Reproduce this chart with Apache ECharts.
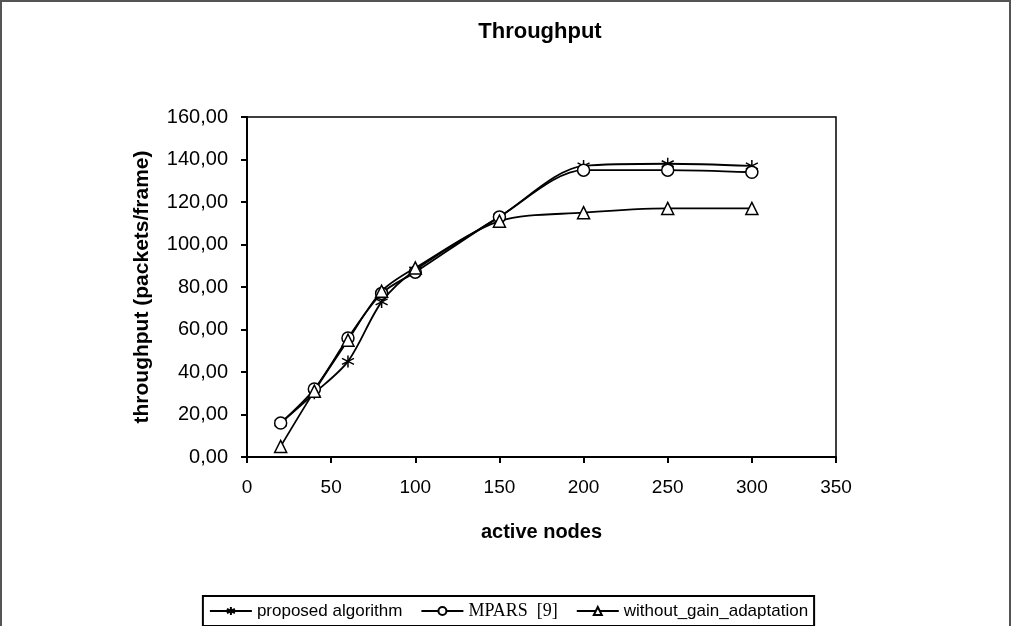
<!DOCTYPE html>
<html>
<head>
<meta charset="utf-8">
<script src="https://cdn.jsdelivr.net/npm/echarts@6/dist/echarts.min.js"></script>
<style>
html,body{margin:0;padding:0;background:#fff;}
#c{width:1017px;height:626px;}
</style>
</head>
<body>
<div id="c"></div>
<script>
var nodes = [20, 40, 60, 80, 100, 150, 200, 250, 300];
var proposed = [16, 30, 45, 73, 88, 113, 137, 138, 137];
var mpars = [16, 32, 56, 77, 87, 113, 135, 135, 134];
var withoutGain = [5, 31, 55, 78, 89, 111, 115, 117, 117];
var seriesNames = ['proposed algorithm', 'MPARS  [9]', 'without_gain_adaptation'];

function pairs(ys){ return nodes.map(function(x,i){ return [x, ys[i]]; }); }

var starPath = 'path://M5,0L5,10M0.7,2.5L9.3,7.5M0.7,7.5L9.3,2.5';
var font = 'Liberation Sans, Arial, sans-serif';

function mkSeries(name, ys, symbol){
  return {
    name: name, type: 'line', data: pairs(ys), smooth: 0.3,
    symbol: symbol, symbolSize: 12, showAllSymbol: true,
    lineStyle: {color: '#000', width: 1.8},
    itemStyle: {color: '#fff', borderColor: '#000', borderWidth: 1.5},
    emphasis: {disabled: true}
  };
}

var chart = echarts.init(document.getElementById('c'));
chart.setOption({
  animation: false,
  backgroundColor: '#fff',
  title: {
    text: 'Throughput', left: 535, top: 16, textAlign: 'center',
    textStyle: {fontFamily: font, fontSize: 22, fontWeight: 'bold', color: '#000'}
  },
  grid: {left: 247, right: 181, top: 117, bottom: 169, show: true, borderColor: '#000', borderWidth: 1.5, backgroundColor: '#fff'},
  xAxis: {
    type: 'value', min: 0, max: 350, interval: 50,
    name: 'active nodes', nameLocation: 'middle', nameGap: 65,
    nameTextStyle: {fontFamily: font, fontSize: 20, fontWeight: 'bold', color: '#000'},
    axisLine: {lineStyle: {color: '#000', width: 2}},
    axisTick: {inside: false, length: 6, lineStyle: {color: '#000', width: 2}},
    axisLabel: {fontFamily: font, fontSize: 19, color: '#000', margin: 21},
    splitLine: {show: false}
  },
  yAxis: {
    type: 'value', min: 0, max: 160, interval: 20,
    name: 'throughput (packets/frame)', nameLocation: 'middle', nameGap: 94,
    nameTextStyle: {fontFamily: font, fontSize: 21, fontWeight: 'bold', color: '#000'},
    axisLine: {lineStyle: {color: '#000', width: 2}},
    axisTick: {inside: false, length: 6, lineStyle: {color: '#000', width: 2}},
    axisLabel: {fontFamily: font, fontSize: 20, color: '#000', margin: 19,
      formatter: function(v){ return v.toFixed(2).replace('.', ','); }},
    splitLine: {show: false}
  },
  legend: {
    bottom: 0, left: 'center',
    data: [
      {name: seriesNames[0]},
      {name: seriesNames[1], textStyle: {fontFamily: 'Liberation Serif, Times New Roman, serif', fontSize: 18}},
      {name: seriesNames[2]}
    ],
    itemWidth: 42, itemHeight: 10, itemGap: 18,
    borderColor: '#000', borderWidth: 2, padding: [6, 6],
    textStyle: {fontFamily: font, fontSize: 17, color: '#000'}
  },
  graphic: [{
    type: 'polyline', silent: true,
    shape: {points: [[1, 640], [1, 1], [1010, 1], [1010, 640]]},
    style: {stroke: '#555', lineWidth: 2, fill: null}
  }],
  series: [
    mkSeries(seriesNames[0], proposed, starPath),
    mkSeries(seriesNames[1], mpars, 'circle'),
    mkSeries(seriesNames[2], withoutGain, 'triangle')
  ]
});
</script>
</body>
</html>
